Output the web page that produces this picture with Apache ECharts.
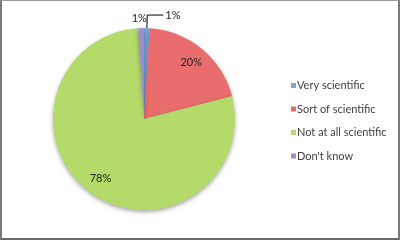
<!DOCTYPE html>
<html>
<head>
<meta charset="utf-8">
<script src="https://cdn.jsdelivr.net/npm/echarts@6/dist/echarts.min.js"></script>
<style>
html,body{margin:0;padding:0;background:#fff;}
#wrap{position:relative;width:400px;height:240px;}
#chart{position:absolute;left:0;top:0;width:400px;height:240px;}
#frame{position:absolute;left:0;top:0;width:400px;height:240px;box-sizing:border-box;
border-top:1px solid #9a9a9a;border-left:2px solid #7a7a7a;border-right:2px solid #7a7a7a;border-bottom:2px solid #6a6a6a;pointer-events:none;}
</style>
</head>
<body>
<div id="wrap"><div id="chart"></div><div id="frame"></div></div>
<script>
const categories = ["Very scientific", "Sort of scientific", "Not at all scientific", "Don't know"];
const values = [1, 20, 78, 1];
const colors = ["#7EA6E0", "#E86D6C", "#B4DA6A", "#A08BD0"];

const FONT = "Lato, 'Open Sans', sans-serif";
const chart = echarts.init(document.getElementById('chart'), null, {renderer:'canvas'});

const mainData = categories.map((c, i) => {
  const d = {name: c, value: values[i], itemStyle: {color: colors[i]}};
  if (i === 0) {
    d.label = {show: true, distanceToLabelLine: 2};
    d.labelLine = {show: true, length: 13, length2: 16, lineStyle: {color: '#000', width: 1}};
  } else if (i === 3) {
    d.label = {show: true, distanceToLabelLine: -6};
    d.labelLine = {show: false, length: 10, length2: 0};
  } else {
    d.label = {show: false};
    d.labelLine = {show: false};
  }
  return d;
});

const labelData = categories.map((c, i) => ({
  name: c, value: values[i],
  label: {show: i === 1 || i === 2}
}));

chart.setOption({
  animation: false,
  color: colors,
  legend: {
    orient: 'vertical',
    left: 286,
    top: 75,
    itemWidth: 5,
    itemHeight: 5,
    itemGap: 12.5,
    icon: 'rect',
    selectedMode: false,
    textStyle: {fontFamily: FONT, fontSize: 11, color: '#404040', padding: [0,0,0,-4]},
    data: categories.map((c, i) => ({name: c, itemStyle: {color: colors[i]}}))
  },
  series: [
    {
      type: 'pie',
      center: [144, 119],
      radius: [0, 91],
      startAngle: 90,
      clockwise: true,
      silent: true,
      avoidLabelOverlap: false,
      itemStyle: {shadowColor: 'rgba(0,0,0,0.35)', shadowBlur: 4, shadowOffsetY: 2},
      label: {position: 'outside', formatter: '{d}%', fontFamily: FONT, fontSize: 11, color: '#222'},
      data: mainData
    },
    {
      type: 'pie',
      center: [144, 119],
      radius: [51, 91],
      startAngle: 90,
      clockwise: true,
      silent: true,
      legendHoverLink: false,
      itemStyle: {color: 'rgba(0,0,0,0)'},
      label: {position: 'inside', formatter: '{d}%', fontFamily: FONT, fontSize: 11, color: '#222'},
      labelLine: {show: false},
      data: labelData
    }
  ]
});
</script>
</body>
</html>
